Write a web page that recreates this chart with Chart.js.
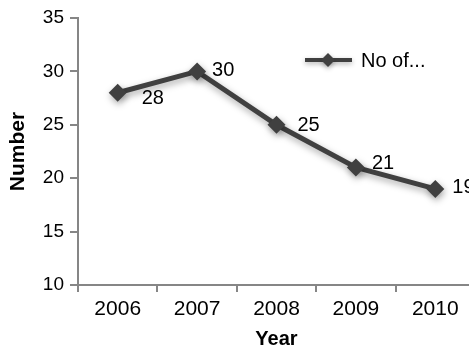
<!DOCTYPE html>
<html>
<head>
<meta charset="utf-8">
<script src="https://cdn.jsdelivr.net/npm/chart.js@4/dist/chart.umd.min.js"></script>
<style>
  html, body { margin: 0; padding: 0; background: #fff; overflow: hidden; }
  #wrap { width: 490px; height: 349px; }
</style>
</head>
<body>
<div id="wrap"><canvas id="c" width="490" height="349"></canvas></div>
<script>
// Yearly counts
const years = ['2006', '2007', '2008', '2009', '2010'];
const counts = [28, 30, 25, 21, 19];
const seriesName = 'No of...';
const yTicks = [10, 15, 20, 25, 30, 35];

const LINE = '#404040';
const AXIS = '#868686';
const TEXT = '#000';
const FONT = "'Liberation Sans', Arial, sans-serif";

// Soft drop shadow under the series
const shadowPlugin = {
  id: 'shadow',
  beforeDatasetsDraw(chart) {
    const ctx = chart.ctx;
    ctx.save();
    ctx.shadowColor = 'rgba(0,0,0,0.35)';
    ctx.shadowBlur = 7;
    ctx.shadowOffsetX = 1;
    ctx.shadowOffsetY = 3;
  },
  afterDatasetsDraw(chart) {
    chart.ctx.restore();
  }
};

// Value labels beside each marker
const valueLabels = {
  id: 'valueLabels',
  afterDatasetsDraw(chart, args, opts) {
    const ctx = chart.ctx;
    const meta = chart.getDatasetMeta(0);
    const data = chart.data.datasets[0].data;
    ctx.save();
    ctx.font = '20px ' + FONT;
    ctx.fillStyle = TEXT;
    ctx.textAlign = 'left';
    ctx.textBaseline = 'middle';
    meta.data.forEach((pt, i) => {
      const off = opts.offsets[i] || [17, 0];
      ctx.fillText(String(data[i]), pt.x + off[0], pt.y + off[1]);
    });
    ctx.restore();
  }
};

// Legend sample drawn inside the plot area
const innerLegend = {
  id: 'innerLegend',
  afterDraw(chart, args, opts) {
    const ctx = chart.ctx;
    const area = chart.chartArea;
    const x = area.left + opts.x, y = area.top + opts.y;
    ctx.save();
    ctx.shadowColor = 'rgba(0,0,0,0.3)';
    ctx.shadowBlur = 5;
    ctx.shadowOffsetY = 2;
    ctx.strokeStyle = LINE;
    ctx.lineWidth = 4;
    ctx.beginPath();
    ctx.moveTo(x, y);
    ctx.lineTo(x + 47, y);
    ctx.stroke();
    ctx.fillStyle = LINE;
    ctx.beginPath();
    const cx = x + 23, r = 7;
    ctx.moveTo(cx, y - r);
    ctx.lineTo(cx + r, y);
    ctx.lineTo(cx, y + r);
    ctx.lineTo(cx - r, y);
    ctx.closePath();
    ctx.fill();
    ctx.restore();
    ctx.save();
    ctx.font = '20px ' + FONT;
    ctx.fillStyle = TEXT;
    ctx.textAlign = 'left';
    ctx.textBaseline = 'middle';
    ctx.fillText(chart.data.datasets[0].label, x + 56, y + 1);
    ctx.restore();
  }
};

new Chart(document.getElementById('c'), {
  type: 'line',
  data: {
    labels: years,
    datasets: [{
      label: seriesName,
      data: counts,
      borderColor: LINE,
      backgroundColor: LINE,
      borderWidth: 5,
      pointStyle: 'rectRot',
      pointRadius: 9,
      pointHoverRadius: 9,
      pointBorderWidth: 0,
      tension: 0
    }]
  },
  options: {
    responsive: false,
    animation: false,
    events: [],
    layout: { padding: { left: 0, top: 18, right: 15, bottom: 0 } },
    plugins: {
      legend: { display: false },
      tooltip: { enabled: false },
      valueLabels: { offsets: [[24, 6], [15, -1], [21, 1], [16, -4], [17, -1]] },
      innerLegend: { x: 227, y: 42 }
    },
    scales: {
      x: {
        type: 'category',
        offset: true,
        afterFit(scale) { scale.height = 64; },
        grid: {
          offset: true,
          drawOnChartArea: false,
          drawTicks: true,
          tickLength: 7,
          color: AXIS,
          lineWidth: 2
        },
        border: { display: true, color: AXIS, width: 2 },
        ticks: {
          color: TEXT,
          font: { family: FONT, size: 21 },
          padding: 5,
          maxRotation: 0
        },
        title: {
          display: true,
          text: 'Year',
          color: TEXT,
          font: { family: FONT, size: 20, weight: 'bold', lineHeight: 1.0 },
          padding: { top: 0, bottom: 0 }
        }
      },
      y: {
        min: yTicks[0],
        max: yTicks[yTicks.length - 1],
        afterFit(scale) { scale.width = 78; },
        afterBuildTicks(scale) { scale.ticks = yTicks.map(v => ({ value: v })); },
        grid: {
          drawOnChartArea: false,
          drawTicks: true,
          tickLength: 8,
          color: AXIS,
          lineWidth: 2
        },
        border: { display: true, color: AXIS, width: 2 },
        ticks: {
          color: TEXT,
          font: { family: FONT, size: 19 },
          padding: 6
        },
        title: {
          display: true,
          text: 'Number',
          color: TEXT,
          font: { family: FONT, size: 21, weight: 'bold', lineHeight: 1.0 },
          padding: { top: 8, bottom: 0 }
        }
      }
    }
  },
  plugins: [shadowPlugin, valueLabels, innerLegend]
});
</script>
</body>
</html>
